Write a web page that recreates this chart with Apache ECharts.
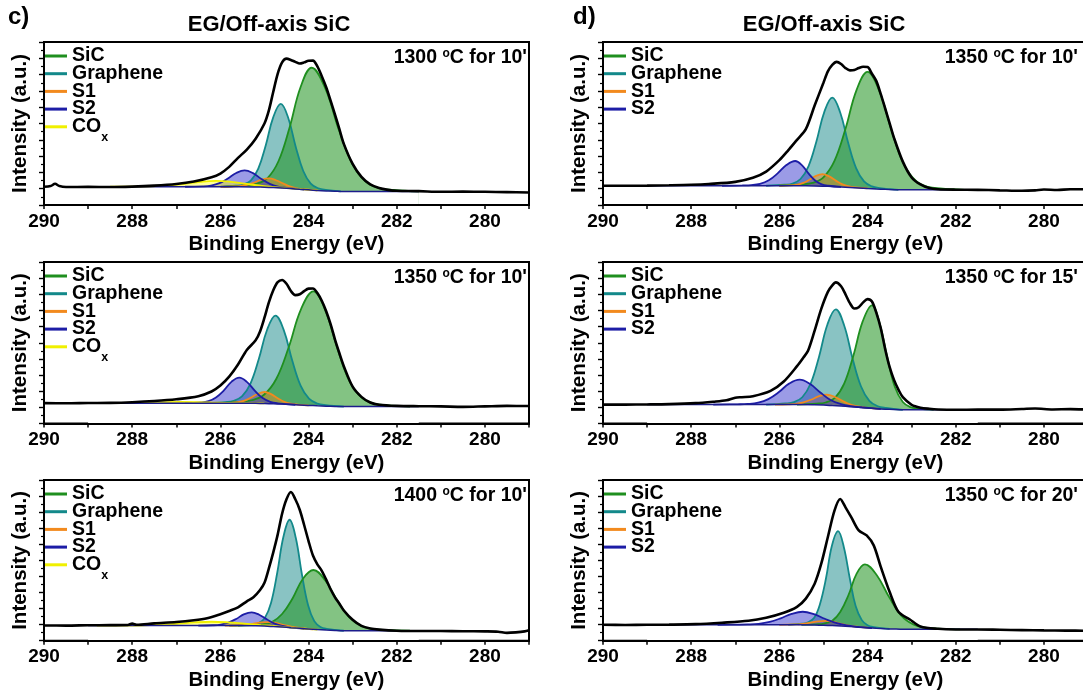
<!DOCTYPE html>
<html><head><meta charset="utf-8">
<script src="https://cdn.jsdelivr.net/npm/echarts@6/dist/echarts.min.js"></script>
<style>html,body{margin:0;padding:0;background:#fff}#chart{width:1083px;height:693px}</style>
</head><body><div id="chart"></div>
<script>
// ---------- DATA (binding energy eV, intensity a.u. 0-100) ----------
const compNames = ['SiC','Graphene','S1','S2','COx'];
const temps = ['1300','1350','1400','1350','1350','1350'];
const times = ["10'","10'","10'","10'","15'","20'"];

// c) 1300 C 10'
const c1_env = [[290,11.2],[289.85,11.6],[289.75,13.0],[289.65,11.6],[289.5,11.0],[289,11.1],[288.5,11.0],[288,11.3],[287.5,11.9],[287,12.9],[286.6,14.4],[286.2,17.0],[286,19.3],[285.8,23.4],[285.6,28.9],[285.4,34.0],[285.2,40.7],[285.0,50.0],[284.9,58],[284.8,69.5],[284.7,80.5],[284.6,87.5],[284.5,89.8],[284.4,89],[284.3,87.8],[284.2,86.8],[284.1,87.5],[284.0,88.5],[283.9,88.6],[283.8,85],[283.7,79],[283.6,72.2],[283.5,64],[283.4,55.5],[283.3,46.5],[283.2,37.5],[283.0,25.2],[282.8,17.2],[282.6,12.6],[282.4,10.4],[282.2,9.3],[282,8.7],[281.5,8.5],[281,8.1],[280.5,8.2],[280,8.1],[279.5,7.9],[279,7.7]];
const c1_bg = [[289,11.2],[285.6,11.2],[285.2,11.05],[285.0,10.9],[284.8,10.7],[284.6,10.4],[284.4,10.05],[284.2,9.65],[284.0,9.3],[283.8,8.95],[283.6,8.65],[283.4,8.45],[283.2,8.3],[281.5,8.3]];
const c1_SiC = [[285.93,11.2],[285.43,12.05],[285.18,13.0],[284.93,16.55],[284.68,27.0],[284.43,47.6],[284.18,72.4],[283.93,84.2],[283.62,71.5],[283.31,45.85],[283.0,24.8],[282.69,14.0],[282.38,10.25],[282.07,9.2],[281.5,8.3]];
const c1_Graphene = [[285.99,11.2],[285.65,11.8],[285.48,12.55],[285.31,15.0],[285.14,22.35],[284.97,36.7],[284.8,53.9],[284.63,62.0],[284.46,53.35],[284.29,35.65],[284.12,20.85],[283.95,13.1],[283.78,10.25],[283.61,9.25],[283.27,8.3]];
const c1_S1 = [[286.0,11.2],[285.73,11.35],[285.56,11.6],[285.4,12.3],[285.23,13.8],[285.07,15.5],[284.9,16.3],[284.74,15.2],[284.57,13.1],[284.41,11.25],[284.24,10.1],[284.08,9.6],[283.8,8.95]];
const c1_S2 = [[286.8,11.2],[286.4,11.45],[286.21,11.95],[286.02,13.4],[285.83,16.25],[285.64,19.65],[285.45,21.25],[285.26,19.55],[285.07,15.95],[284.88,13.0],[284.69,11.3],[284.5,10.45],[284.1,9.5]];
const c1_COx = [[288.5,11.2],[287.85,11.3],[287.5,11.5],[287.15,12.0],[286.8,13.0],[286.45,14.2],[286.1,14.8],[285.75,14.2],[285.4,12.9],[285.05,11.7],[284.7,10.8],[284.35,10.1],[283.8,8.95]];

// c) 1350 C 10'
const c2_env = [[290,12.6],[289.5,12.5],[289,12.7],[288.5,12.8],[288,13.2],[287.5,13.9],[287,15.0],[286.5,16.9],[286.2,19.8],[286,23.5],[285.8,29],[285.6,36.5],[285.4,45.5],[285.2,51.5],[285.1,57],[285.0,65.5],[284.9,75],[284.8,82.5],[284.7,87.5],[284.6,88.9],[284.5,86.5],[284.4,82],[284.3,79.5],[284.2,80],[284.1,82],[284.0,83.5],[283.9,83.6],[283.8,80.8],[283.7,76],[283.6,69.5],[283.5,61.5],[283.4,52],[283.3,43.5],[283.2,35.5],[283.0,22.8],[282.8,16.5],[282.6,13.0],[282.4,11.6],[282,10.9],[281.5,10.7],[281,10.6],[280.5,10.3],[280,10.6],[279.5,10.9],[279,10.8]];
const c2_bg = [[289,12.6],[285.6,12.6],[285.2,12.5],[285.0,12.4],[284.8,12.2],[284.6,12.0],[284.4,11.75],[284.2,11.5],[284.0,11.2],[283.8,10.95],[283.6,10.75],[283.4,10.6],[283.2,10.5],[281.5,10.5]];
const c2_SiC = [[286.1,12.6],[285.57,13.45],[285.29,14.4],[285.01,17.8],[284.73,27.7],[284.45,47.2],[284.17,70.85],[283.89,81.85],[283.62,70.05],[283.34,45.95],[283.07,26.1],[282.79,15.9],[282.52,12.35],[282.24,11.35],[281.7,10.5]];
const c2_Graphene = [[286.3,12.6],[285.89,13.25],[285.7,14.0],[285.51,16.75],[285.32,24.55],[285.13,39.75],[284.94,58.05],[284.75,66.8],[284.56,57.65],[284.37,39.0],[284.18,23.45],[283.99,15.35],[283.8,12.35],[283.61,11.4],[283.2,10.5]];
const c2_S1 = [[286.0,12.6],[285.75,12.8],[285.6,13.15],[285.45,14.15],[285.3,16.1],[285.15,18.4],[285.0,19.5],[284.85,18.2],[284.7,15.65],[284.55,13.45],[284.4,12.3],[284.25,11.75],[284.0,11.2]];
const c2_S2 = [[286.8,12.6],[286.45,13.0],[286.27,13.8],[286.1,16.1],[285.92,20.5],[285.75,25.8],[285.57,28.4],[285.4,25.8],[285.22,20.4],[285.05,15.9],[284.87,13.45],[284.7,12.5],[284.3,11.6]];
const c2_COx = [[288.8,12.6],[288.3,12.66],[287.95,12.78],[287.6,13.0],[287.25,13.27],[286.9,13.4],[286.55,13.27],[286.2,13.0],[285.85,12.78],[285.5,12.66],[285.0,12.4]];

// c) 1400 C 10'
const c3_env = [[290,9.5],[289.5,9.4],[289,9.6],[288.5,9.7],[288.1,9.8],[288.0,10.6],[287.9,9.9],[287.5,10.8],[287,11.6],[286.6,12.7],[286.3,14],[286,16.5],[285.8,18.5],[285.6,20.8],[285.4,24.5],[285.25,27],[285.1,31.5],[285.0,36],[284.9,45],[284.8,55],[284.7,66],[284.6,79],[284.5,88],[284.4,92.5],[284.3,88],[284.2,81.5],[284.1,72],[284.0,62],[283.9,53],[283.8,47.5],[283.7,43.5],[283.6,38],[283.5,32],[283.4,27],[283.3,23],[283.2,18.8],[283.0,13],[282.8,9.2],[282.6,7.6],[282.4,6.9],[282,6.2],[281.5,6.0],[281,6.0],[280.5,5.9],[280,5.8],[279.7,5.6],[279.5,4.9],[279.3,5.2],[279.1,5.8],[279,6.5]];
const c3_bg = [[289,9.4],[285.6,9.4],[285.2,9.25],[285.0,9.1],[284.8,8.8],[284.6,8.5],[284.4,8.1],[284.2,7.7],[284.0,7.3],[283.8,6.9],[283.6,6.6],[283.4,6.35],[283.2,6.2],[281.5,6.2]];
const c3_SiC = [[285.8,9.4],[285.3,9.75],[285.07,10.1],[284.83,11.65],[284.6,16.6],[284.36,26.45],[284.13,38.45],[283.89,44.0],[283.62,37.5],[283.34,24.75],[283.07,14.3],[282.79,9.0],[282.52,7.15],[282.24,6.65],[281.7,6.2]];
const c3_Graphene = [[285.6,9.4],[285.27,10.1],[285.13,10.95],[284.99,14.2],[284.85,23.65],[284.71,42.3],[284.57,64.65],[284.43,75.25],[284.29,64.05],[284.15,41.2],[284.01,22.1],[283.87,12.15],[283.73,8.55],[283.59,7.4],[283.2,6.2]];
const c3_S1 = [[285.9,9.4],[285.6,9.6],[285.42,9.9],[285.25,10.55],[285.07,11.35],[284.9,11.55],[284.72,10.9],[284.55,9.7],[284.37,8.6],[284.2,7.9],[283.9,7.1]];
const c3_S2 = [[286.5,9.4],[286.17,9.6],[285.99,10.05],[285.82,11.25],[285.64,13.55],[285.47,16.35],[285.29,17.6],[285.12,16.15],[284.94,13.2],[284.77,10.6],[284.59,9.15],[284.42,8.35],[284.1,7.5]];
const c3_COx = [[288.8,9.4],[288.08,9.45],[287.7,9.6],[287.33,9.95],[286.95,10.6],[286.58,11.4],[286.2,11.8],[285.83,11.4],[285.45,10.55],[285.08,9.7],[284.7,8.9],[284.33,8.05],[283.8,6.9]];

// d) 1350 C 10'
const d1_env = [[290,11.8],[289.5,11.8],[289,11.9],[288.5,12.1],[288,12.4],[287.6,12.9],[287,14.2],[286.6,16.7],[286.3,20.5],[286.0,27.5],[285.8,33.5],[285.6,40.0],[285.4,46.5],[285.2,61],[285.0,75],[284.9,82],[284.8,86],[284.7,87.8],[284.6,86.5],[284.5,84],[284.4,82.6],[284.3,82.8],[284.2,84],[284.1,84.8],[284.0,84.6],[283.9,80.5],[283.8,76],[283.7,68],[283.6,59.2],[283.5,50.3],[283.4,41.2],[283.2,26.6],[283.0,16.9],[282.8,12.6],[282.6,10.4],[282.4,9.7],[282,9.4],[281.5,9.3],[281,9.0],[280.5,8.7],[280.2,9.0],[280.0,9.5],[279.7,9.2],[279.4,9.7],[279,9.7]];
const d1_bg = [[289,11.8],[285.6,11.8],[285.2,11.7],[285.0,11.55],[284.8,11.35],[284.6,11.1],[284.4,10.8],[284.2,10.5],[284.0,10.15],[283.8,9.85],[283.6,9.6],[283.4,9.4],[283.2,9.3],[281.5,9.3]];
const d1_SiC = [[286.0,11.8],[285.5,12.65],[285.25,13.55],[285.0,17.0],[284.75,27.05],[284.5,46.75],[284.25,70.5],[284.0,81.7],[283.73,69.65],[283.45,45.25],[283.18,25.05],[282.9,14.75],[282.63,11.15],[282.35,10.15],[281.8,9.3]];
const d1_Graphene = [[286.3,11.8],[285.88,12.45],[285.7,13.2],[285.52,15.95],[285.34,23.75],[285.16,39.0],[284.98,57.15],[284.8,65.9],[284.62,56.75],[284.44,38.15],[284.26,22.6],[284.08,14.45],[283.9,11.4],[283.72,10.4],[283.3,9.3]];
const d1_S1 = [[286.0,11.8],[285.77,12.0],[285.62,12.35],[285.47,13.4],[285.32,15.45],[285.17,17.85],[285.02,18.9],[284.87,17.55],[284.72,14.95],[284.57,12.65],[284.42,11.4],[284.27,10.8],[284.0,10.15]];
const d1_S2 = [[287.3,11.8],[286.84,12.0],[286.64,12.2],[286.44,12.95],[286.24,15.15],[286.04,19.4],[285.84,24.5],[285.64,27.0],[285.49,24.5],[285.34,19.35],[285.19,15.05],[285.04,12.7],[284.89,11.8],[284.6,11.1]];

// d) 1350 C 15'
const d2_env = [[290,11.7],[289.5,11.7],[289,11.8],[288.5,12.0],[287.9,12.6],[287.5,13.5],[287.2,14.4],[287.0,16.0],[286.85,16.3],[286.6,16.9],[286.2,20.2],[285.9,26],[285.6,35.5],[285.45,41],[285.35,45],[285.2,57.5],[285.05,71],[284.9,81.5],[284.8,85.5],[284.72,87.4],[284.6,85],[284.5,80],[284.4,74.5],[284.3,71.2],[284.2,72],[284.1,75],[284.0,77],[283.9,75.5],[283.8,68.5],[283.7,59],[283.6,46],[283.5,35],[283.4,27],[283.3,21],[283.2,16.3],[283.0,11.6],[282.8,9.8],[282.6,9.1],[282.4,8.7],[282,8.5],[281.5,8.6],[281,8.6],[280.5,9.0],[280.2,9.3],[279.8,8.7],[279.4,8.9],[279,8.6]];
const d2_bg = [[289,11.7],[285.6,11.7],[285.2,11.55],[285.0,11.4],[284.8,11.1],[284.6,10.8],[284.4,10.4],[284.2,10.0],[284.0,9.6],[283.8,9.2],[283.6,8.9],[283.4,8.65],[283.2,8.5],[281.5,8.5]];
const d2_SiC = [[285.6,11.7],[285.16,12.3],[284.95,13.0],[284.74,15.9],[284.53,24.65],[284.32,42.15],[284.11,63.2],[283.9,73.2],[283.73,62.45],[283.55,40.7],[283.38,22.6],[283.2,13.35],[283.03,10.15],[282.85,9.25],[282.5,8.5]];
const d2_Graphene = [[286.3,11.7],[285.86,12.4],[285.67,13.25],[285.48,16.25],[285.29,24.75],[285.1,41.4],[284.91,61.3],[284.72,70.7],[284.53,60.65],[284.34,40.2],[284.15,23.05],[283.96,14.05],[283.77,10.7],[283.58,9.6],[283.2,8.5]];
const d2_S1 = [[286.1,11.7],[285.8,11.85],[285.62,12.2],[285.45,13.15],[285.27,14.85],[285.1,16.95],[284.92,17.8],[284.75,16.55],[284.57,14.0],[284.4,11.85],[284.22,10.55],[284.05,9.85],[283.7,9.05]];
const d2_S2 = [[287.5,11.7],[286.95,11.9],[286.72,12.1],[286.48,12.9],[286.25,15.1],[286.01,19.45],[285.78,24.7],[285.54,27.2],[285.31,24.6],[285.07,19.2],[284.84,14.55],[284.6,12.0],[284.37,10.75],[284.13,10.05],[283.7,9.05]];

// d) 1350 C 20'
const d3_env = [[290,9.9],[289.5,9.8],[289,9.9],[288.5,10.0],[287.9,10.3],[287.3,11.2],[286.7,12.4],[286.3,14.3],[285.9,17.4],[285.6,21.1],[285.4,26.2],[285.2,35.5],[285.05,47.9],[284.9,64.5],[284.75,81],[284.62,88.2],[284.5,83],[284.37,76.9],[284.2,68.6],[284.02,65.5],[283.86,59.3],[283.7,45.9],[283.5,30.4],[283.3,18],[283.04,13.2],[282.8,8.9],[282.4,7.4],[282,7.0],[281.5,7.0],[281,6.8],[280.5,6.6],[280,6.4],[279.5,6.3],[279,6.2]];
const d3_bg = [[289,9.9],[285.6,9.9],[285.2,9.75],[285.0,9.6],[284.8,9.4],[284.6,9.1],[284.4,8.8],[284.2,8.4],[284.0,8.05],[283.8,7.7],[283.6,7.45],[283.4,7.25],[283.2,7.1],[281.5,7.1]];
const d3_SiC = [[285.5,9.9],[285.17,10.2],[284.99,10.65],[284.8,12.4],[284.62,17.85],[284.43,28.6],[284.25,41.55],[284.06,47.5],[283.79,40.75],[283.51,27.1],[283.24,15.8],[282.96,10.1],[282.69,8.15],[282.41,7.55],[281.9,7.1]];
const d3_Graphene = [[285.8,9.9],[285.48,10.6],[285.35,11.4],[285.21,14.25],[285.08,22.7],[284.94,39.15],[284.81,58.95],[284.67,68.2],[284.54,58.5],[284.4,38.4],[284.27,21.55],[284.13,12.8],[284.0,9.6],[283.86,8.5],[283.5,7.35]];
const d3_S1 = [[286.0,9.9],[285.65,10.1],[285.47,10.5],[285.3,11.2],[285.12,12.0],[284.95,12.3],[284.77,11.65],[284.6,10.5],[284.42,9.4],[284.25,8.7],[283.9,7.85]];
const d3_S2 = [[287.4,9.9],[286.97,10.0],[286.72,10.1],[286.47,10.5],[286.22,11.7],[285.97,13.95],[285.72,16.7],[285.47,18.0],[285.22,16.55],[284.97,13.65],[284.72,11.1],[284.47,9.5],[284.22,8.65],[283.9,7.85]];

// ---------- LAYOUT / STYLE ----------
const F = "'Liberation Sans', Arial, Helvetica, sans-serif";
const STY = {
  SiC: {line:'#1f8f1f', fill:'rgba(30,145,30,0.55)'},
  Graphene: {line:'#13898a', fill:'rgba(20,135,135,0.5)'},
  S1: {line:'#f28a1e', fill:'rgba(240,135,30,0.45)'},
  S2: {line:'#1d1da6', fill:'rgba(55,55,205,0.5)'},
  COx: {line:'#f0f000', fill:'rgba(255,255,0,0.4)'}
};
const drawOrder = [1,0,2,3,4];
const panels = [
  {col:0,row:0,env:c1_env,bg:c1_bg,comps:[c1_SiC,c1_Graphene,c1_S1,c1_S2,c1_COx]},
  {col:0,row:1,env:c2_env,bg:c2_bg,comps:[c2_SiC,c2_Graphene,c2_S1,c2_S2,c2_COx]},
  {col:0,row:2,env:c3_env,bg:c3_bg,comps:[c3_SiC,c3_Graphene,c3_S1,c3_S2,c3_COx]},
  {col:1,row:0,env:d1_env,bg:d1_bg,comps:[d1_SiC,d1_Graphene,d1_S1,d1_S2]},
  {col:1,row:1,env:d2_env,bg:d2_bg,comps:[d2_SiC,d2_Graphene,d2_S1,d2_S2]},
  {col:1,row:2,env:d3_env,bg:d3_bg,comps:[d3_SiC,d3_Graphene,d3_S1,d3_S2]}
];
const colLeft = [44, 603], rowTop = [42, 262, 480], rowH = [163, 161.5, 160.7], plotW = 485;
const annotX = [527, 1078];
const rowStep = 17.7, legendW = 23, legendFont = 19.5, itemH = 20;

const grids=[], xAxes=[], yAxes=[], series=[], legends=[], graphics=[];
panels.forEach((p,i)=>{
  const left = colLeft[p.col], top = rowTop[p.row], h = rowH[p.row];
  grids.push({left, top, width:plotW, height:h, show:true, borderColor:'#000', borderWidth:2,
    backgroundColor:'rgba(0,0,0,0)', containLabel:false, outerBoundsMode:'none'});
  xAxes.push({gridIndex:i, type:'value', min:279, max:290, interval:1, inverse:true, z:5,
    axisLine:{show:true, onZero:false, lineStyle:{color:'#000', width:2}},
    axisTick:{show:true, inside:false, length:4, lineStyle:{color:'#000', width:1.5}},
    axisLabel:{show:true, margin:7, fontSize:19, fontWeight:'bold', fontFamily:F, color:'#000',
      formatter:v=>{const r=Math.round(v); return r%2===0 ? String(r) : '';}},
    splitLine:{show:false},
    name:'Binding Energy (eV)', nameLocation:'middle', nameGap:29,
    nameTextStyle:{fontSize:20.5, fontWeight:'bold', fontFamily:F, color:'#000'}});
  yAxes.push({gridIndex:i, type:'value', min:0, max:100, interval:10, z:5,
    axisLine:{show:true, onZero:false, lineStyle:{color:'#000', width:2}},
    axisTick:{show:true, inside:false, length:5, lineStyle:{color:'#000', width:1.4}},
    minorTick:{show:true, splitNumber:2, length:3, lineStyle:{color:'#000', width:1.2}},
    axisLabel:{show:false}, splitLine:{show:false}, minorSplitLine:{show:false},
    name:'Intensity (a.u.)', nameLocation:'middle', nameGap:13,
    nameTextStyle:{fontSize:20.5, fontWeight:'bold', fontFamily:F, color:'#000'}});
  drawOrder.forEach(k=>{
    if (k >= p.comps.length) return;
    const data = p.comps[k], nm = compNames[k], s = STY[nm];
    series.push({type:'line', name:nm, xAxisIndex:i, yAxisIndex:i, data, smooth:0.4,
      symbol:'none', showSymbol:false, silent:true, animation:false, color:s.line,
      itemStyle:{color:s.line}, lineStyle:{color:s.line, width:1.8},
      areaStyle:{color:s.fill, opacity:1}});
  });
  series.push({type:'line', name:'bg'+i, xAxisIndex:i, yAxisIndex:i, data:p.bg, smooth:0.3,
    symbol:'none', silent:true, animation:false, lineStyle:{color:'#1c1c8c', width:1.5},
    areaStyle:{color:'#ffffff', opacity:1}});
  series.push({type:'line', name:'data'+i, xAxisIndex:i, yAxisIndex:i, data:p.env, smooth:0.3,
    symbol:'none', silent:true, animation:false, lineStyle:{color:'#000', width:2.6}});
  const names = compNames.slice(0, p.comps.length);
  const legTop = top + 4;
  legends.push({show:true, data:names, orient:'vertical', left:left, top:legTop, padding:0,
    itemGap:rowStep-itemH, itemWidth:legendW, itemHeight:3, icon:'rect', selectedMode:false,
    formatter:n=> n==='COx' ? 'CO' : n,
    textStyle:{fontSize:legendFont, fontWeight:'bold', fontFamily:F, color:'#000', lineHeight:itemH}});
  graphics.push({type:'text', x:annotX[p.col], y:top+15.5, silent:true,
    style:{text: temps[i]+' {sup|o}C for '+times[i], font:'bold 19.5px '+F, fill:'#000',
      align:'right', textAlign:'right', verticalAlign:'middle', textVerticalAlign:'middle',
      rich:{sup:{fontSize:12, fontWeight:'bold', fontFamily:F, fill:'#000', verticalAlign:'top'}}}});
  if (p.comps.length === 5) {
    graphics.push({type:'text', x:left+legendW+5+29.3, y:legTop+itemH/2+4*rowStep+11, silent:true,
      style:{text:'x', font:'bold 12.5px '+F, fill:'#000', verticalAlign:'middle', textVerticalAlign:'middle'}});
  }
});
graphics.push({type:'text', x:8, y:17, style:{text:'c)', font:'bold 24px '+F, fill:'#000', verticalAlign:'middle', textVerticalAlign:'middle'}});
graphics.push({type:'text', x:573, y:17, style:{text:'d)', font:'bold 24px '+F, fill:'#000', verticalAlign:'middle', textVerticalAlign:'middle'}});
graphics.push({type:'text', x:269, y:25, style:{text:'EG/Off-axis SiC', font:'bold 22px '+F, fill:'#000', align:'center', textAlign:'center', verticalAlign:'middle', textVerticalAlign:'middle'}});
graphics.push({type:'text', x:824, y:25, style:{text:'EG/Off-axis SiC', font:'bold 22px '+F, fill:'#000', align:'center', textAlign:'center', verticalAlign:'middle', textVerticalAlign:'middle'}});

const chart = echarts.init(document.getElementById('chart'), null, {renderer:'canvas'});
chart.setOption({
  backgroundColor:'#ffffff', animation:false,
  textStyle:{fontFamily:F},
  grid:grids, xAxis:xAxes, yAxis:yAxes, series, legend:legends, graphic:graphics
});
</script></body></html>
